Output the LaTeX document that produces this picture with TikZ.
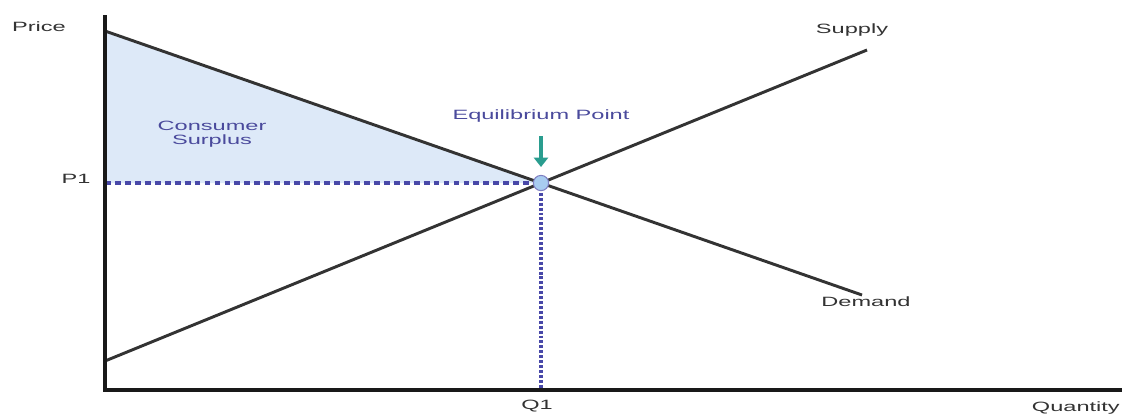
\documentclass[tikz,border=0pt]{standalone}
\usepackage{fontspec}
\setmainfont{Liberation Sans}[FakeStretch=1.75]
\usetikzlibrary{arrows.meta, positioning, calc}
\definecolor{surplus}{HTML}{DDE9F8}
\definecolor{noteblue}{HTML}{4A4A9C}
\definecolor{guideblue}{HTML}{4848A8}
\definecolor{arrteal}{HTML}{2A9D8F}
\definecolor{pointfill}{HTML}{A8CCF0}
\definecolor{ink}{HTML}{333333}

\begin{document}
\begin{tikzpicture}[x=0.03cm, y=-0.03cm,
  axis/.style={line width=3pt, black!90},
  curve/.style={line width=2.5pt, ink},
  lbl/.style={font=\fontsize{11.5}{12}\selectfont, text=ink, inner sep=0pt},
  note/.style={lbl, text=noteblue, align=center},
  guide/.style={guideblue, line width=3pt, dash pattern=on 5pt off 3.5pt},
  arr/.style={-{Triangle[length=8pt,width=12pt]}, line width=3.5pt, arrteal}
]
\useasboundingbox (0,0) rectangle (1122,414);
% axes and curve end points
\coordinate (origin) at (105,390);
\coordinate (ytop) at (105,15);
\coordinate (xend) at (1122,390);
\coordinate (d0) at (105,31);
\coordinate (d1) at (862,295);
\coordinate (s0) at (105,361);
\coordinate (s1) at (867,50);
\coordinate (eq) at (541,183);
\coordinate (p1) at (105,183);
\coordinate (q1) at (541,390);

\fill[surplus] (d0) -- (eq) -- (p1) -- cycle;
\draw[guide] (p1) -- (eq);
\draw[guide, dash pattern=on 2.5pt off 1.7pt] (eq) -- (q1);
\draw[curve] (d0) -- (d1);
\draw[curve] (s0) -- (s1);
\draw[axis] (ytop) -- (origin) -- (xend);
\node[circle, draw=guideblue!70, fill=pointfill, line width=0.9pt,
      minimum size=13pt, inner sep=0pt] (pt) at (eq) {};

% labels
\node[lbl] (price) at (39,27) {Price};
\node[lbl] (p1lbl) at (76,179) {P1};
\node[lbl] (supply) at (852,30) {Supply};
\node[lbl] (demand) at (866,302) {Demand};
\node[lbl] (q1lbl) at (537,406) {Q1};
\node[lbl, anchor=east] (qty) at (1120,408) {Quantity};
\node[note] (eqlbl) at (541,116) {Equilibrium Point};
\node[note] (cs) at (212,134) {Consumer\\Surplus};

\coordinate (arrtop) at (541,136);
\coordinate (arrtip) at (541,167);
\draw[arr] (arrtop) -- (arrtip);
\end{tikzpicture}
\end{document}
